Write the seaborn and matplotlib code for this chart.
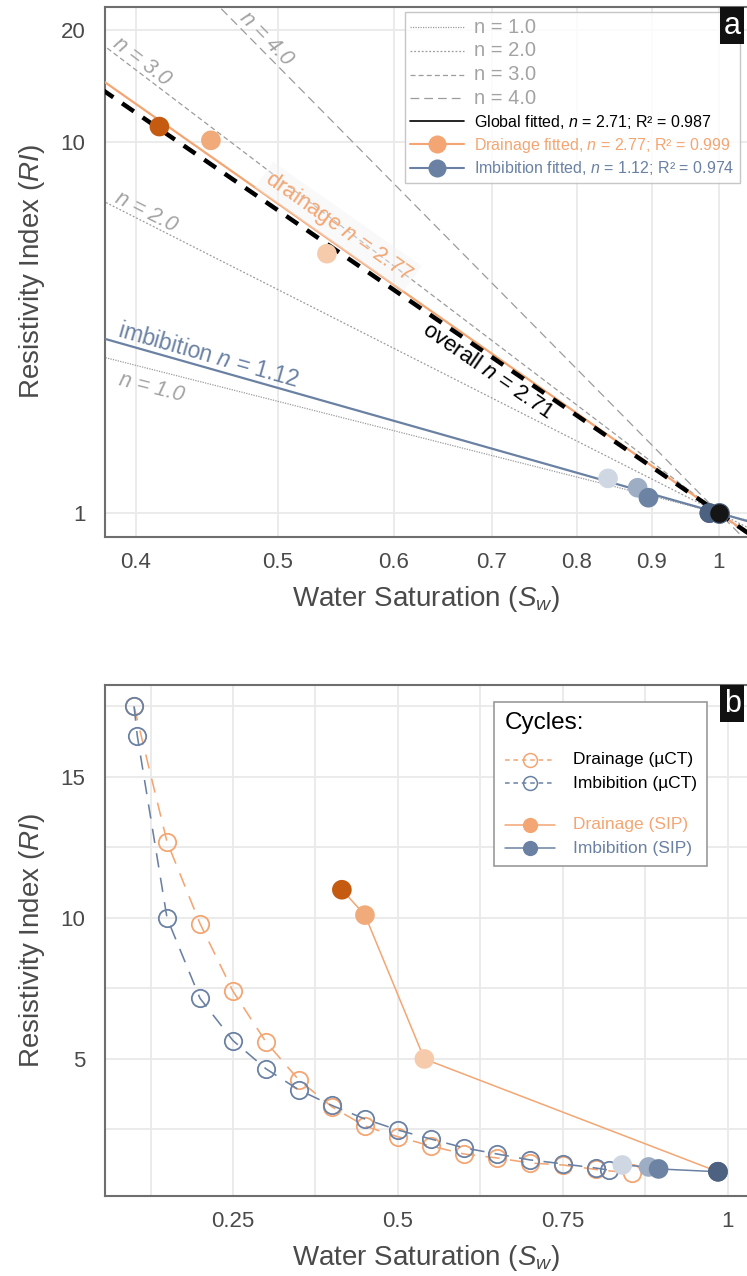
import numpy as np
import pandas as pd
import matplotlib
matplotlib.use("Agg")
import matplotlib.pyplot as plt
import seaborn as sns
from matplotlib.lines import Line2D
from matplotlib.ticker import FixedLocator, FuncFormatter, NullLocator, MultipleLocator

# ------------------------------------------------------------------ data
ref_n = [1.0, 2.0, 3.0, 4.0]
ref_labels = ["n = 1.0", "n = 2.0", "n = 3.0", "n = 4.0"]
global_n, global_r2 = 2.71, 0.987
drain_n, drain_r2 = 2.77, 0.999
imb_n, imb_r2 = 1.12, 0.974
fit_sw_range = [0.30, 1.10]

sip_drain_sw = [0.415, 0.45, 0.54, 0.985]
sip_drain_ri = [11.0, 10.1, 5.0, 1.0]
sip_drain_colors = ["#c55a11", "#f1aa7a", "#f6cbac", "#4d6180"]

sip_imb_sw = [0.84, 0.88, 0.895, 0.985]
sip_imb_ri = [1.24, 1.17, 1.10, 1.0]
sip_imb_colors = ["#cfd7e2", "#9dadc3", "#6c83a4", "#4d6180"]

ref_point_sw = [1.0]
ref_point_ri = [1.0]

ct_drain_sw = [0.10, 0.15, 0.20, 0.25, 0.30, 0.35, 0.40, 0.45, 0.50, 0.55,
               0.60, 0.65, 0.70, 0.75, 0.80, 0.855]
ct_drain_ri = [17.5, 12.7, 9.8, 7.4, 5.6, 4.25, 3.3, 2.62, 2.24, 1.91,
               1.63, 1.49, 1.31, 1.24, 1.08, 0.95]
ct_imb_sw = [0.10, 0.105, 0.15, 0.20, 0.25, 0.30, 0.35, 0.40, 0.45, 0.50,
             0.55, 0.60, 0.65, 0.70, 0.75, 0.80, 0.82]
ct_imb_ri = [17.5, 16.45, 10.0, 7.15, 5.65, 4.65, 3.9, 3.35, 2.87, 2.48,
             2.16, 1.85, 1.63, 1.42, 1.28, 1.13, 1.06]

top_xticks = [0.4, 0.5, 0.6, 0.7, 0.8, 0.9, 1.0]
top_yticks = [1, 10, 20]

# ------------------------------------------------------------------ style
ORANGE = "#f3a673"
BLUE = "#6a81a3"
GRAY = "#a3a3a3"
GRID = "#e9e9e9"
SPINE = "#6e6e6e"
TXT = "#4a4a4a"

sns.set_theme(style="whitegrid")
plt.rcParams["font.family"] = ["Liberation Sans", "DejaVu Sans"]
plt.rcParams["mathtext.fontset"] = "custom"
plt.rcParams["mathtext.rm"] = "Liberation Sans"
plt.rcParams["mathtext.it"] = "Liberation Sans:italic"
plt.rcParams["mathtext.bf"] = "Liberation Sans:bold"

W, H = 747, 1276
fig = plt.figure(figsize=(W / 100, H / 100), dpi=100)


def px_axes(left, top, right, bottom):
    return fig.add_axes([left / W, 1 - bottom / H, (right - left) / W, (bottom - top) / H])


ax1 = px_axes(105, 7, 747, 537)
ax2 = px_axes(105, 685, 747, 1196)

for ax in (ax1, ax2):
    ax.set_facecolor("white")
    for s in ("left", "bottom", "top"):
        ax.spines[s].set_color(SPINE)
        ax.spines[s].set_linewidth(1.5)
    ax.spines["right"].set_visible(False)
    ax.tick_params(length=0, labelsize=16, labelcolor=TXT)
    ax.tick_params(axis="x", pad=11)
    ax.tick_params(axis="y", pad=14)

# ------------------------------------------------------------------ panel a
ax1.set_xscale("log")
ax1.set_yscale("log")
ax1.set_xlim(0.381, 1.045)
ax1.set_ylim(0.862, 23.1)

sw_fit = np.array(fit_sw_range)
ref_styles = [(0, (1, 1)), (0, (1.5, 1.5)), (0, (4, 2.5)), (0, (7, 4))]
for n, ls in zip(ref_n, ref_styles):
    sns.lineplot(x=sw_fit, y=sw_fit ** (-n), ax=ax1, color="#9c9c9c", lw=0.9,
                 linestyle=ls, sort=False, estimator=None, zorder=2)

sns.lineplot(x=sw_fit, y=sw_fit ** (-imb_n), ax=ax1, color=BLUE, lw=1.6,
             sort=False, estimator=None, zorder=3)
sns.lineplot(x=sw_fit, y=sw_fit ** (-drain_n), ax=ax1, color=ORANGE, lw=1.6,
             sort=False, estimator=None, zorder=3)
sns.lineplot(x=sw_fit, y=sw_fit ** (-global_n), ax=ax1, color="black", lw=3.2,
             linestyle=(0, (3.2, 2.4)), sort=False, estimator=None, zorder=4)

df_d = pd.DataFrame({"sw": sip_drain_sw, "ri": sip_drain_ri,
                     "k": [f"d{i}" for i in range(len(sip_drain_sw))]})
df_i = pd.DataFrame({"sw": sip_imb_sw, "ri": sip_imb_ri,
                     "k": [f"i{i}" for i in range(len(sip_imb_sw))]})
pal_d = dict(zip(df_d["k"], sip_drain_colors))
pal_i = dict(zip(df_i["k"], sip_imb_colors))

sns.scatterplot(data=df_d, x="sw", y="ri", hue="k", palette=pal_d, ax=ax1, s=200,
                linewidth=0, legend=False, zorder=5)
sns.scatterplot(data=df_i, x="sw", y="ri", hue="k", palette=pal_i, ax=ax1, s=200,
                linewidth=0, legend=False, zorder=6)
sns.scatterplot(x=ref_point_sw, y=ref_point_ri, ax=ax1, s=200, color="#151515",
                edgecolor="#4d6180", linewidth=0.8, legend=False, zorder=7)

ax1.xaxis.set_major_locator(FixedLocator(top_xticks))
ax1.xaxis.set_minor_locator(NullLocator())
ax1.yaxis.set_major_locator(FixedLocator(top_yticks))
ax1.yaxis.set_minor_locator(NullLocator())
ax1.xaxis.set_major_formatter(FuncFormatter(lambda v, p: f"{v:g}"))
ax1.yaxis.set_major_formatter(FuncFormatter(lambda v, p: f"{v:g}"))
ax1.grid(True, which="major", color=GRID, lw=1.3)
ax1.set_xlabel("Water Saturation ($S_w$)", fontsize=20, color=TXT, labelpad=8)
ax1.set_ylabel("Resistivity Index ($RI$)", fontsize=20, color=TXT, labelpad=10)


def line_angle(ax, n, sw0):
    p1 = ax.transData.transform((sw0, sw0 ** (-n)))
    p2 = ax.transData.transform((sw0 * 1.05, (sw0 * 1.05) ** (-n)))
    return np.degrees(np.arctan2(p2[1] - p1[1], p2[0] - p1[0]))


def line_label(ax, n, sw, text, dist, bbox=None, **kw):
    ang = line_angle(ax, n, sw)
    a = np.radians(ang)
    nx, ny = -np.sin(a), np.cos(a)
    ax.annotate(text, xy=(sw, sw ** (-n)), xytext=(nx * dist, ny * dist),
                textcoords="offset pixels", rotation=ang, rotation_mode="anchor",
                ha="center", va="center", bbox=bbox, zorder=8, **kw)


ref_label_pos = [(0.413, -17.5), (0.4035, 9.8), (0.400, 10.0), (0.485, 10.5)]
for n, lab, (sw, d) in zip(ref_n, ref_labels, ref_label_pos):
    line_label(ax1, n, sw, lab, d, fontsize=15.5, color=GRAY, style="italic")

line_label(ax1, imb_n, 0.446, "imbibition $n$ = 1.12", 12.5, fontsize=16.5, color=BLUE)
line_label(ax1, drain_n, 0.542, "drainage $n$ = 2.77", 15.6, fontsize=16, color=ORANGE,
           bbox=dict(boxstyle="square,pad=0.15", fc="#f3f3f3", ec="none", alpha=0.45))
line_label(ax1, global_n, 0.704, "overall $n$ = 2.71", -14, fontsize=16, color="black")

top_handles = [
    Line2D([], [], color="#9c9c9c", lw=0.9, ls=ref_styles[0]),
    Line2D([], [], color="#9c9c9c", lw=0.9, ls=ref_styles[1]),
    Line2D([], [], color="#9c9c9c", lw=0.9, ls=ref_styles[2]),
    Line2D([], [], color="#9c9c9c", lw=0.9, ls=ref_styles[3]),
    Line2D([], [], color="black", lw=1.2),
    Line2D([], [], color=ORANGE, lw=1.5, marker="o", ms=13, mec="none"),
    Line2D([], [], color=BLUE, lw=1.5, marker="o", ms=13, mec="none"),
]
top_labels = ref_labels + [
    f"Global fitted, $n$ = {global_n}; R² = {global_r2}",
    f"Drainage fitted, $n$ = {drain_n}; R² = {drain_r2}",
    f"Imbibition fitted, $n$ = {imb_n}; R² = {imb_r2}",
]
leg1 = ax1.legend(top_handles, top_labels, loc="upper right",
                  bbox_to_anchor=((740 - 105) / 642, (537 - 12) / 530),
                  borderaxespad=0, fontsize=11.5, handlelength=3.4,
                  labelspacing=0.3, borderpad=0.35, handletextpad=0.6,
                  fancybox=False, framealpha=0.85, edgecolor="#bdbdbd")
leg1.get_frame().set_linewidth(1.0)
leg_cols = [GRAY] * 4 + ["black", ORANGE, BLUE]
for t, c in zip(leg1.get_texts(), leg_cols):
    t.set_color(c)
for t in leg1.get_texts()[:4]:
    t.set_fontsize(14.5)
leg1.set_zorder(20)

# ------------------------------------------------------------------ panel b
ct_ls = (0, (9, 6.5))
sns.lineplot(x=ct_drain_sw, y=ct_drain_ri, ax=ax2, color=ORANGE, lw=1.15, linestyle=ct_ls,
             marker="o", ms=12.5, mfc="none", mec=ORANGE, mew=1.3,
             sort=False, estimator=None, zorder=3)
sns.lineplot(x=ct_imb_sw, y=ct_imb_ri, ax=ax2, color=BLUE, lw=1.15, linestyle=ct_ls,
             marker="o", ms=12.5, mfc="none", mec=BLUE, mew=1.3,
             sort=False, estimator=None, zorder=4)
sns.lineplot(x=sip_drain_sw, y=sip_drain_ri, ax=ax2, color=ORANGE, lw=1.1,
             sort=False, estimator=None, zorder=5)
sns.lineplot(x=sip_imb_sw, y=sip_imb_ri, ax=ax2, color=BLUE, lw=1.1,
             sort=False, estimator=None, zorder=5)
sns.scatterplot(data=df_d, x="sw", y="ri", hue="k", palette=pal_d, ax=ax2, s=200,
                linewidth=0, legend=False, zorder=6)
sns.scatterplot(data=df_i, x="sw", y="ri", hue="k", palette=pal_i, ax=ax2, s=200,
                linewidth=0, legend=False, zorder=7)

ax2.set_xlim(0.056, 1.029)
ax2.set_ylim(0.14, 18.26)
ax2.xaxis.set_major_locator(FixedLocator([0.25, 0.5, 0.75, 1.0]))
ax2.xaxis.set_minor_locator(MultipleLocator(0.125))
ax2.yaxis.set_major_locator(FixedLocator([5, 10, 15]))
ax2.yaxis.set_minor_locator(MultipleLocator(2.5))
ax2.xaxis.set_major_formatter(FuncFormatter(lambda v, p: f"{v:g}"))
ax2.yaxis.set_major_formatter(FuncFormatter(lambda v, p: f"{v:g}"))
ax2.grid(True, which="both", color=GRID, lw=1.3)
ax2.tick_params(which="minor", length=0)
ax2.set_xlabel("Water Saturation ($S_w$)", fontsize=20, color=TXT, labelpad=8)
ax2.set_ylabel("Resistivity Index ($RI$)", fontsize=20, color=TXT, labelpad=10)

bot_handles = [
    Line2D([], [], color=ORANGE, lw=1.1, ls=(0, (3, 2.5)), marker="o", ms=10,
           mfc="none", mec=ORANGE, mew=1.1),
    Line2D([], [], color=BLUE, lw=1.1, ls=(0, (3, 2.5)), marker="o", ms=10,
           mfc="none", mec=BLUE, mew=1.1),
    Line2D([], [], color="none", lw=0),
    Line2D([], [], color=ORANGE, lw=1.1, marker="o", ms=11, mec="none"),
    Line2D([], [], color=BLUE, lw=1.1, marker="o", ms=11, mec="none"),
]
bot_labels = ["Drainage (µCT)", "Imbibition (µCT)", "", "Drainage (SIP)", "Imbibition (SIP)"]
leg2 = ax2.legend(bot_handles, bot_labels, loc="upper right",
                  bbox_to_anchor=((707 - 105) / 642, (1196 - 702) / 511),
                  borderaxespad=0, fontsize=12.5, title="Cycles:", title_fontsize=17.5,
                  alignment="left", handlelength=2.9, handleheight=0.1,
                  labelspacing=0.49, borderpad=0.6, handletextpad=1.0, fancybox=False,
                  framealpha=1, edgecolor="#999999")
leg2.get_frame().set_linewidth(1.2)
for t, c in zip(leg2.get_texts(), ["black", "black", "black", ORANGE, BLUE]):
    t.set_color(c)
leg2.get_texts()[2].set_fontsize(1)
leg2.get_title().set_color("black")
leg2._legend_box.sep = 13

# ------------------------------------------------------------------ panel tags
for ax, tag in ((ax1, "a"), (ax2, "b")):
    ax.text(0.99, 0.993, tag, transform=ax.transAxes, ha="right", va="top",
            fontsize=22, color="white", zorder=30,
            bbox=dict(boxstyle="square,pad=0.12", fc="#111111", ec="none"))

fig.savefig("out.png", dpi=100)
